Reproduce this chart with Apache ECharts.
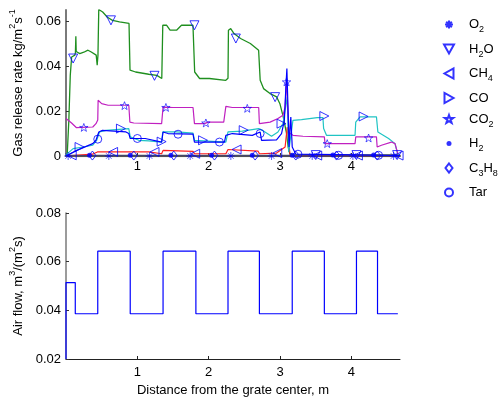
<!DOCTYPE html>
<html><head><meta charset="utf-8">
<script src="https://cdn.jsdelivr.net/npm/echarts@6/dist/echarts.min.js"></script>
<style>html,body{margin:0;padding:0;background:#fff}#c{width:498px;height:401px}</style>
</head><body><div id="c"></div>
<script>
// ---------- data ----------
const xTicks = [1, 2, 3, 4];
const yTicksTop = [0, 0.02, 0.04, 0.06];
const yTicksBottom = [0.02, 0.04, 0.06, 0.08];

const o2Line = [[0, 0], [4.68, 0]];
const h2oLine = [[0,0],[0.018,0.0012],[0.04,0.016],[0.06,0.036],[0.079,0.0441],[0.124,0.0449],[0.132,0.046],[0.138,0.0533],[0.143,0.0465],[0.193,0.0456],[0.25,0.0462],[0.308,0.0471],[0.354,0.0463],[0.423,0.0449],[0.437,0.0404],[0.448,0.0449],[0.459,0.0652],[0.514,0.0641],[0.58,0.0618],[0.652,0.0604],[0.75,0.0597],[0.883,0.0590],[0.897,0.0382],[0.975,0.0374],[1.159,0.0364],[1.273,0.0359],[1.342,0.0345],[1.356,0.0582],[1.411,0.0582],[1.458,0.0560],[1.549,0.0560],[1.618,0.0582],[1.779,0.0582],[1.803,0.0374],[1.872,0.0345],[2.01,0.0345],[2.239,0.0337],[2.27,0.0346],[2.276,0.0560],[2.308,0.0567],[2.354,0.0545],[2.446,0.0523],[2.583,0.0501],[2.699,0.0471],[2.721,0.0337],[2.768,0.0300],[2.859,0.0278],[2.952,0.0263],[2.997,0.0233],[3.044,0.0174],[3.09,0.0101],[3.113,0.0040],[3.135,0.0011],[3.2,0.0004],[4.68,0.0004]];
const ch4Line = [[0,0],[0.37,0.0008],[0.44,0.0018],[1.16,0.0018],[1.34,0.0010],[1.36,0.0025],[1.78,0.0021],[1.80,0.0010],[2.24,0.0010],[2.27,0.0029],[2.69,0.0022],[2.71,0.0010],[2.95,0.0013],[3.07,0.0040],[3.10,0.0129],[3.14,0.0002],[4.68,0.0002]];
const coLine = [[0,0.0005],[0.015,0.001],[0.10,0.0033],[0.24,0.004],[0.375,0.0048],[0.43,0.007],[0.47,0.0107],[0.56,0.0114],[0.88,0.0122],[0.90,0.0085],[1.02,0.0070],[1.16,0.0067],[1.34,0.0062],[1.356,0.0107],[1.55,0.0107],[1.78,0.0102],[1.80,0.0070],[2.24,0.0062],[2.27,0.0107],[2.47,0.0111],[2.70,0.0122],[2.75,0.0115],[2.88,0.0088],[2.97,0.0107],[3.04,0.0144],[3.10,0.0263],[3.12,0.0018],[3.18,0.0159],[3.30,0.0162],[3.52,0.0171],[3.60,0.0171],[3.61,0.0122],[3.65,0.0092],[4.05,0.0092],[4.06,0.0151],[4.12,0.0174],[4.35,0.0174],[4.37,0.0107],[4.52,0.0078],[4.61,0.0055],[4.65,0.0005]];
const co2Line = [[0,0.0167],[0.015,0.0160],[0.078,0.0147],[0.147,0.0126],[0.375,0.0129],[0.42,0.0144],[0.445,0.0160],[0.45,0.0248],[0.50,0.0233],[0.59,0.0226],[0.88,0.0226],[0.895,0.0151],[0.95,0.0147],[1.34,0.0144],[1.36,0.0218],[1.5,0.0216],[1.78,0.0216],[1.80,0.0144],[1.94,0.0144],[1.99,0.0151],[2.21,0.0151],[2.24,0.0221],[2.33,0.0216],[2.70,0.0216],[2.71,0.0144],[2.86,0.0151],[2.97,0.0167],[3.04,0.0181],[3.07,0.0218],[3.09,0.0340],[3.11,0.020],[3.13,0.0102],[3.18,0.0092],[3.32,0.0088],[3.62,0.0085],[3.63,0.0055],[4.05,0.0055],[4.06,0.0085],[4.35,0.0085],[4.36,0.0040],[4.42,0.0048],[4.56,0.0062],[4.61,0.0055],[4.65,0.0010]];
const h2Line = [[0,0],[3.14,0.0002],[3.2,0.0005],[4.65,0.0005]];
const c3h8Line = [[0,0.0001],[4.68,0.0001]];
const tarLine = [[0,0],[0.15,0.0025],[0.375,0.0055],[0.42,0.007],[0.46,0.0107],[0.51,0.0114],[0.84,0.0107],[0.88,0.0100],[0.90,0.0078],[1.11,0.0078],[1.34,0.0062],[1.36,0.0107],[1.43,0.0100],[1.78,0.0097],[1.80,0.0062],[2.22,0.0062],[2.24,0.0092],[2.33,0.0100],[2.61,0.0092],[2.72,0.0107],[2.74,0.0070],[2.95,0.0072],[3.02,0.0100],[3.06,0.0160],[3.08,0.030],[3.095,0.0389],[3.11,0.022],[3.125,0.004],[3.15,0.0174],[3.17,0.004],[3.22,0.0008],[4.68,0.0003]];

const o2Marks = [[0.03,0],[0.60,0],[1.17,0],[1.74,0],[2.31,0],[2.88,0],[3.45,0],[4.02,0],[4.59,0]];
const h2oMarks = [[0.10,0.0434],[0.63,0.0604],[1.24,0.0357],[1.80,0.0582],[2.38,0.0523],[2.93,0.0262],[3.50,0.0004],[4.07,0.0004],[4.64,0.0004]];
const ch4Marks = [[0.08,0.0003],[0.66,0.0018],[1.24,0.0018],[1.81,0.0010],[2.39,0.0029],[2.96,0.0013],[3.52,0.0002],[4.09,0.0002],[4.66,0.0002]];
const coMarks = [[0.19,0.0040],[0.77,0.0122],[1.34,0.0064],[1.92,0.0070],[2.49,0.0115],[3.02,0.0144],[3.62,0.0178],[4.17,0.0176]];
const co2Marks = [[0.25,0.0127],[0.82,0.0224],[1.40,0.0216],[1.96,0.0147],[2.54,0.0212],[3.09,0.0330],[3.66,0.0055],[4.24,0.0080]];
const h2Marks = [[0.33,0.0003],[0.90,0.0003],[1.47,0.0003],[2.04,0.0003],[2.61,0.0003],[3.17,0.0003],[3.74,0.0005],[4.31,0.0005]];
const c3h8Marks = [[0.37,0.0002],[0.95,0.0002],[1.51,0.0002],[2.08,0.0002],[2.65,0.0002],[3.22,0.0002],[3.79,0.0002],[4.36,0.0002]];
const tarMarks = [[0.445,0.0075],[1.00,0.0078],[1.57,0.0097],[2.15,0.0062],[2.72,0.0100],[3.25,0.0008],[3.82,0.0003],[4.38,0.0003]];

// air flow: level starting at each x
const airX = [0, 0, 0.13, 0.445, 0.90, 1.36, 1.82, 2.27, 2.71, 3.17, 3.62, 4.07, 4.365, 4.65];
const airY = [0.02, 0.0514, 0.0386, 0.0643, 0.0386, 0.0643, 0.0386, 0.0643, 0.0386, 0.0643, 0.0386, 0.0643, 0.0386, 0.0386];

// ---------- chart ----------
const FONT = 'Liberation Sans';
const BLUE = '#0000ff';
const hollow = {color: 'rgba(0,0,0,0)', borderColor: BLUE, borderWidth: 1};
const thin = {color: 'rgba(0,0,0,0)', borderColor: BLUE, borderWidth: 0.8};
const SYM = {
  'O2':   {symbol: 'path://M0,0M10,10M1,5L9,5M5,1L5,9M2.2,2.2L7.8,7.8M2.2,7.8L7.8,2.2', size: 10, style: thin},
  'H2O':  {symbol: 'path://M0,0L10,0L5,9Z', size: 9, style: hollow},
  'CH4':  {symbol: 'path://M9,0L9,10L0,5Z', size: 9, style: hollow},
  'CO':   {symbol: 'path://M0,0L0,10L9,5Z', size: 9, style: hollow},
  'CO2':  {symbol: 'path://M0,0M10,10M5,1L6.1,4L9.2,4L6.7,5.9L7.6,8.9L5,7.1L2.4,8.9L3.3,5.9L0.8,4L3.9,4Z', size: 10, style: thin},
  'H2':   {symbol: 'path://M0,0M10,10M7.5,5A2.5,2.5 0 1,1 2.5,5A2.5,2.5 0 1,1 7.5,5Z', size: 10, style: {color: BLUE}},
  'C3H8': {symbol: 'path://M0,0M10,10M5,0.5L8.5,5L5,9.5L1.5,5Z', size: 10, style: hollow},
  'Tar':  {symbol: 'path://M0,0M10,10M9,5A4,4 0 1,1 1,5A4,4 0 1,1 9,5Z', size: 10, style: hollow}
};
const names = ['O2','H2O','CH4','CO','CO2','H2','C3H8','Tar'];
const lines = {O2: o2Line, H2O: h2oLine, CH4: ch4Line, CO: coLine, CO2: co2Line, H2: h2Line, C3H8: c3h8Line, Tar: tarLine};
const marks = {O2: o2Marks, H2O: h2oMarks, CH4: ch4Marks, CO: coMarks, CO2: co2Marks, H2: h2Marks, C3H8: c3h8Marks, Tar: tarMarks};
const lineColor = {O2: '#505050', H2O: '#1f8f1f', CH4: '#ff2020', CO: '#20c4c4', CO2: '#c020c0', H2: '#a0a020', C3H8: '#303080', Tar: BLUE};
const lineWidth = {O2: 2.5, H2O: 1.3, CH4: 1.2, CO: 1.2, CO2: 1.2, H2: 1.2, C3H8: 1.2, Tar: 1.2};
const legendRich = {
  O2: '{g| }{n|O}{s|2}', H2O: '{g| }{n|H}{s|2}{n|O}', CH4: '{g| }{n|CH}{s|4}', CO: '{g| }{n|CO}',
  CO2: '{g| }{n|CO}{s|2}', H2: '{g| }{n|H}{s|2}', C3H8: '{g| }{n|C}{s|3}{n|H}{s|8}', Tar: '{g| }{n|Tar}'
};

const series = [];
names.forEach(n => {
  series.push({
    name: n + ' line', type: 'line', data: lines[n], xAxisIndex: 0, yAxisIndex: 0,
    symbol: 'none', showSymbol: false, silent: true, z: 2,
    lineStyle: {color: lineColor[n], width: lineWidth[n]}
  });
});
names.forEach(n => {
  series.push({
    name: n, type: 'scatter', data: marks[n], xAxisIndex: 0, yAxisIndex: 0,
    symbol: SYM[n].symbol, symbolSize: SYM[n].size, z: 5, silent: true,
    itemStyle: SYM[n].style
  });
});
series.push({
  name: 'Air flow', type: 'line', step: 'end', xAxisIndex: 1, yAxisIndex: 1,
  data: airX.map((x, i) => [x, airY[i]]), symbol: 'none', showSymbol: false,
  lineStyle: {color: BLUE, width: 1.2}
});

const tickLabel = {fontSize: 13, color: '#000', fontFamily: FONT};
const richName = {
  n: {fontSize: 13, lineHeight: 20, color: '#000', fontFamily: FONT},
  sup: {fontSize: 9, lineHeight: 10, verticalAlign: 'top', color: '#000', fontFamily: FONT}
};

const option = {
  animation: false,
  backgroundColor: '#fff',
  textStyle: {fontFamily: FONT},
  grid: [
    {left: 61, top: 10, width: 339, height: 146, containLabel: false},
    {left: 61, top: 213, width: 339, height: 146, containLabel: false}
  ],
  legend: {
    orient: 'vertical', left: 438, top: 13, itemGap: 8, itemWidth: 10, itemHeight: 10,
    data: names, selectedMode: false,
    formatter: n => legendRich[n],
    textStyle: {
      fontSize: 13, color: '#000', fontFamily: FONT,
      rich: {
        g: {width: 10, fontSize: 13},
        n: {fontSize: 13, lineHeight: 20, color: '#000', fontFamily: FONT},
        s: {fontSize: 9, lineHeight: 10, verticalAlign: 'bottom', color: '#000', fontFamily: FONT}
      }
    }
  },
  xAxis: [
    {type: 'value', gridIndex: 0, min: 0, max: 4.68, interval: 1,
     axisLine: {show: true, onZero: false, lineStyle: {color: '#555', width: 2}},
     axisTick: {show: true, inside: true, length: 3, customValues: xTicks, lineStyle: {color: '#333'}},
     axisLabel: Object.assign({margin: 4, customValues: xTicks}, tickLabel),
     splitLine: {show: false}},
    {type: 'value', gridIndex: 1, min: 0, max: 4.68, interval: 1,
     axisLine: {show: true, onZero: false, lineStyle: {color: '#222', width: 1}},
     axisTick: {show: true, inside: true, length: 3, customValues: xTicks, lineStyle: {color: '#222'}},
     axisLabel: Object.assign({margin: 7, customValues: xTicks}, tickLabel),
     splitLine: {show: false},
     name: 'Distance from the grate center, m', nameLocation: 'middle', nameGap: 25,
     nameTextStyle: {fontSize: 13, color: '#000', fontFamily: FONT}}
  ],
  yAxis: [
    {type: 'value', gridIndex: 0, min: 0, max: 0.065, interval: 0.02,
     axisLine: {show: true, onZero: false, lineStyle: {color: '#7a7a7a', width: 2}},
     axisTick: {show: true, inside: true, length: 3, customValues: yTicksTop, lineStyle: {color: '#333'}},
     axisLabel: Object.assign({margin: 5, customValues: yTicksTop, formatter: v => v === 0 ? '0' : String(+v.toFixed(2))}, tickLabel),
     splitLine: {show: false},
     name: '{n|Gas release rate kg/m}{sup|2}{n|s}{sup|-1}', nameLocation: 'middle', nameGap: 38, nameRotate: 90,
     nameTextStyle: {rich: richName}},
    {type: 'value', gridIndex: 1, min: 0.02, max: 0.08, interval: 0.02,
     axisLine: {show: true, onZero: false, lineStyle: {color: '#7a7a7a', width: 1.5}},
     axisTick: {show: true, inside: true, length: 3, customValues: yTicksBottom, lineStyle: {color: '#333'}},
     axisLabel: Object.assign({margin: 5, customValues: yTicksBottom, formatter: v => String(+v.toFixed(2))}, tickLabel),
     splitLine: {show: false},
     name: '{n|Air flow, m}{sup|3}{n|/(m}{sup|2}{n|s)}', nameLocation: 'middle', nameGap: 38, nameRotate: 90,
     nameTextStyle: {rich: richName}}
  ],
  series: series
};

const chart = echarts.init(document.getElementById('c'), null, {renderer: 'canvas', width: 498, height: 401});
chart.setOption(option);
</script>
</body></html>
